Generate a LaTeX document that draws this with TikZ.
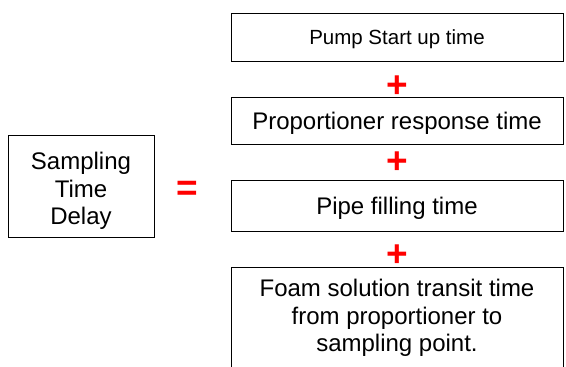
\documentclass[tikz,border=0pt]{standalone}
\usepackage{fontspec}
\setmainfont{Liberation Sans}
\tikzset{
  termbox/.style={draw, line width=0.9pt, minimum width=332pt, inner sep=0pt,
    align=center, font=\fontsize{24}{27.5}\selectfont},
  oneline/.style={text height=17pt, text depth=0pt},
  opsign/.style={text=red, inner sep=0pt, font=\fontsize{37}{37}\selectfont\bfseries}
}
\begin{document}
\begin{tikzpicture}[x=1pt, y=-1pt]
      \useasboundingbox (0, 0) rectangle (566, 367);
      \clip (0, 0) rectangle (566, 367);
      % left side
      \node[termbox, minimum width=146pt, minimum height=102pt] (delay) at (81, 186) {};
      \node[align=center, font=\fontsize{24}{27.5}\selectfont] (delaytext) at (81, 191)
        {Sampling\\Time\\Delay};
      \node[opsign] (eq) at (187, 191) {=};
      % the four parts
      \node[termbox, oneline, minimum height=48pt, font=\fontsize{20.5}{24}\selectfont, text height=15pt] (pump) at (397, 37) {Pump Start up time};
      \node[termbox, oneline, minimum height=47pt] (resp) at (397, 120.5) {Proportioner response time};
      \node[termbox, oneline, minimum height=51pt] (pipe) at (397, 205.5) {Pipe filling time};
      \node[termbox, minimum height=120pt, anchor=north] (transit) at (397, 267) {};
      \node[align=center, font=\fontsize{24}{27.5}\selectfont, anchor=north] (transittext) at (397, 276)
        {Foam solution transit time\\from proportioner to\\sampling point.};
      \foreach \y [count=\i] in {87, 163, 256} {
        \node[opsign] (plus\i) at (397, \y) {+};
      }
    \end{tikzpicture}
\end{document}
